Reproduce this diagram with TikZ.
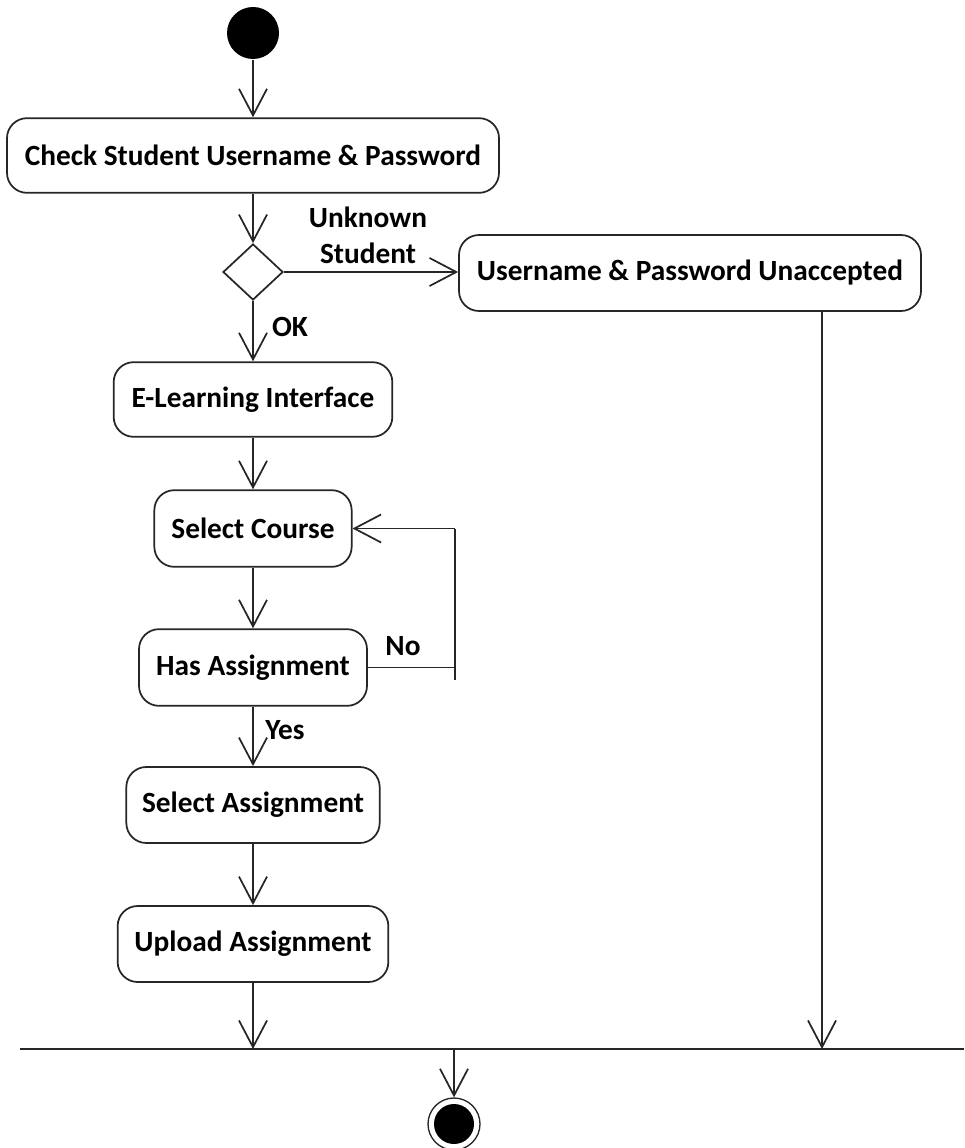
\documentclass[tikz,border=0pt]{standalone}
\usepackage{fontspec}
\setmainfont{Carlito}
\usetikzlibrary{arrows.meta,shapes.geometric}

\begin{document}
\begin{tikzpicture}[x=0.75pt,y=-0.75pt,
  line width=1.3pt, draw=black!85,
  font=\fontsize{22}{27}\selectfont\bfseries,
  action/.style={draw, rounded corners=15pt, align=center, inner sep=0pt},
  decision/.style={draw, diamond, inner sep=0pt, minimum width=45pt, minimum height=42pt},
  flow/.style={-{Straight Barb[length=20pt,width=21pt,line width=1.3pt]}},
  lbl/.style={align=center, inner sep=0pt}]

\useasboundingbox (0,0) rectangle (964,1148);

% initial and final states
\node[circle, fill=black, minimum size=39pt, inner sep=0pt] (start) at (253,33) {};
\node[circle, draw, line width=1pt, minimum size=39pt, inner sep=0pt] (stop) at (454,1124) {};
\node[circle, fill=black, minimum size=30pt, inner sep=0pt] (stopdot) at (454,1124) {};

% activities
\node[action, minimum width=369pt, minimum height=56pt] (check) at (253,155.5) {Check Student Username \& Password};
\node[decision] (valid) at (253,272) {};
\node[action, minimum width=346.5pt, minimum height=57pt] (reject) at (690,273) {Username \& Password Unaccepted};
\node[action, minimum width=209pt, minimum height=56pt] (portal) at (253,399.5) {E-Learning Interface};
\node[action, minimum width=148pt, minimum height=57.5pt] (course) at (253,528.5) {Select Course};
\node[action, minimum width=171pt, minimum height=57.5pt] (hasasg) at (253,667.5) {Has Assignment};
\node[action, minimum width=190pt, minimum height=57pt] (pickasg) at (253,805) {Select Assignment};
\node[action, minimum width=203pt, minimum height=57pt] (upload) at (253,944) {Upload Assignment};

% join bar
\coordinate (barL) at (20,1049);
\coordinate (barR) at (964,1049);
\coordinate (joinA) at (253,1049);
\coordinate (joinB) at (822,1049);
\coordinate (joinOut) at (454,1049);
\draw[line width=1.6pt] (barL) -- (barR);

% loop back for courses without assignments
\coordinate (loopTop) at (455,528.5);
\coordinate (loopBot) at (455,680);

% flows
\draw[flow] (start) -- (check);
\draw[flow] (check) -- (valid);
\draw[flow] (valid.east) -- (valid.east -| reject.west);
\draw[flow] (valid.south) -- (portal);
\draw[flow] (portal) -- (course);
\draw[flow] (course) -- (hasasg);
\draw (hasasg.east) -- (hasasg.east -| loopTop);
\draw (loopBot) -- (loopTop);
\draw[flow] (loopTop) -- (course.east);
\draw[flow] (hasasg) -- (pickasg);
\draw[flow] (pickasg) -- (upload);
\draw[flow] (upload) -- (joinA);
\draw[flow] (reject.south -| joinB) -- (joinB);
\draw[flow] (joinOut) -- (stop);

% guards
\node[lbl] (gUnknown) at (368,235) {Unknown\\Student};
\node[lbl] (gOk) at (290,327) {OK};
\node[lbl] (gNo) at (403,646) {No};
\node[lbl] (gYes) at (285,730) {Yes};

\end{tikzpicture}
\end{document}
